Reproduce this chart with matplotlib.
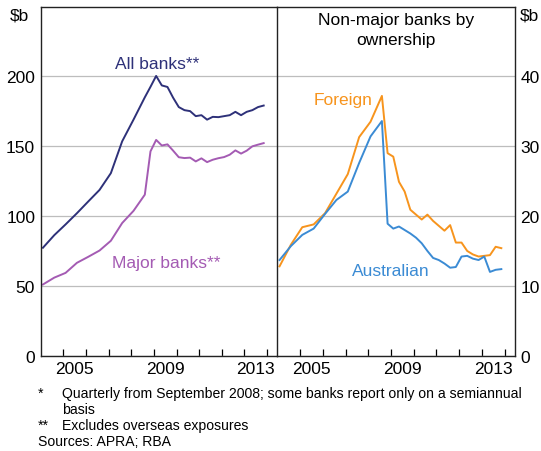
import numpy as np
import matplotlib.pyplot as plt
from matplotlib.ticker import FixedLocator, NullFormatter, FixedFormatter

plt.rcParams["font.family"] = ["Liberation Sans", "DejaVu Sans"]
plt.rcParams["font.size"] = 12.5

# semiannual to mid-2008, quarterly from September 2008
half_dates = 2004.1 + 0.5 * np.arange(10)
qtr_dates = 2008.85 + 0.25 * np.arange(21)
dates = np.concatenate([half_dates, qtr_dates])

all_banks = [77.3, 86.3, 94.0, 102.0, 110.4, 118.7, 130.7, 153.5, 169.0, 185.0,
             192.5, 200.3, 193.5, 192.4, 184.7, 178.0, 175.8, 175.1, 171.5, 172.2,
             169.0, 171.0, 170.8, 171.5, 172.2, 174.6, 172.2, 174.6, 175.8, 178.0,
             179.1]
major_banks = [51.0, 55.9, 59.3, 66.5, 70.8, 75.3, 82.3, 95.0, 103.7, 115.3,
               146.3, 154.5, 150.5, 151.3, 146.8, 142.1, 141.5, 141.8, 139.1, 141.3,
               138.6, 140.3, 141.4, 142.2, 143.9, 147.0, 144.7, 146.8, 149.9, 151.1,
               152.2]
foreign = [12.8, 15.9, 18.4, 18.8, 20.4, 23.2, 26.0, 31.3, 33.5, 37.2,
           29.0, 28.5, 24.9, 23.5, 20.9, 20.2, 19.5, 20.2, 19.3, 18.6,
           17.9, 18.7, 16.2, 16.2, 15.0, 14.5, 14.2, 14.3, 14.4, 15.6,
           15.4]
australian = [13.7, 15.7, 17.3, 18.2, 20.3, 22.3, 23.5, 27.6, 31.4, 33.6,
              18.9, 18.2, 18.5, 18.0, 17.5, 16.9, 16.1, 15.0, 14.0, 13.7,
              13.2, 12.6, 12.7, 14.2, 14.3, 13.9, 13.7, 14.2, 12.0, 12.3,
              12.4]

left_ticks = [0, 50, 100, 150, 200]
right_ticks = [0, 10, 20, 30, 40]
year_labels = ["2005", "2009", "2013"]

NAVY = "#2e3179"
PURPLE = "#a45bb3"
ORANGE = "#f7941d"
BLUE = "#3b8bd4"
GRID = "#bdbdbd"

fig = plt.figure(figsize=(5.41, 4.52), dpi=100)
axl = fig.add_axes([0.0752, 0.2108, 0.4373, 0.7726])
axr = fig.add_axes([0.5125, 0.2108, 0.4394, 0.7726])


def style_axis(ax, ymax, ticks):
    ax.set_xlim(2004.0, 2014.45)
    ax.set_ylim(0, ymax)
    ax.set_yticks(ticks)
    ax.grid(axis="y", color=GRID, linewidth=0.9)
    ax.set_axisbelow(True)
    ax.xaxis.set_major_locator(FixedLocator(np.arange(2005, 2015)))
    ax.xaxis.set_major_formatter(NullFormatter())
    ax.xaxis.set_minor_locator(FixedLocator([2005.5, 2009.5, 2013.5]))
    ax.xaxis.set_minor_formatter(FixedFormatter(year_labels))
    ax.tick_params(axis="x", which="major", direction="in", length=5, width=0.9)
    ax.tick_params(axis="x", which="minor", length=0, pad=4, labelsize=12.5)
    ax.tick_params(axis="y", length=0, labelsize=12.5, pad=4)
    for s in ax.spines.values():
        s.set_linewidth(1.0)
        s.set_color("#222222")


style_axis(axl, 250, left_ticks)
style_axis(axr, 50, right_ticks)
axr.yaxis.tick_right()
axl.spines["right"].set_visible(False)

axl.plot(dates, all_banks, color=NAVY, linewidth=1.4)
axl.plot(dates, major_banks, color=PURPLE, linewidth=1.4)
axr.plot(dates, foreign, color=ORANGE, linewidth=1.4)
axr.plot(dates, australian, color=BLUE, linewidth=1.4)

axl.text(2009.15, 209, "All banks**", color=NAVY, ha="center", va="center")
axl.text(2009.55, 67, "Major banks**", color=PURPLE, ha="center", va="center")
axr.text(2006.9, 36.7, "Foreign", color=ORANGE, ha="center", va="center")
axr.text(2009.0, 12.2, "Australian", color=BLUE, ha="center", va="center")
axr.text(0.5, 0.983, "Non-major banks by\nownership", transform=axr.transAxes,
         ha="center", va="top", linespacing=1.35)

fig.text(10 / 541, 1 - 16 / 452, "$b", ha="left", va="center")
fig.text(520 / 541, 1 - 16 / 452, "$b", ha="left", va="center")

fn = 10.1
fig.text(38 / 541, 1 - 394 / 452, "*", ha="left", va="center", fontsize=fn)
fig.text(62 / 541, 1 - 394 / 452,
         "Quarterly from September 2008; some banks report only on a semiannual",
         ha="left", va="center", fontsize=fn)
fig.text(62 / 541, 1 - 410 / 452, "basis", ha="left", va="center", fontsize=fn)
fig.text(38 / 541, 1 - 426 / 452, "**", ha="left", va="center", fontsize=fn)
fig.text(62 / 541, 1 - 426 / 452, "Excludes overseas exposures",
         ha="left", va="center", fontsize=fn)
fig.text(38 / 541, 1 - 442 / 452, "Sources: APRA; RBA", ha="left", va="center", fontsize=fn)

fig.savefig("out.png", dpi=100)
